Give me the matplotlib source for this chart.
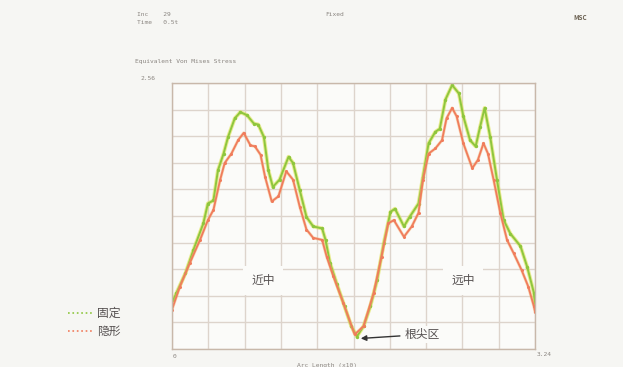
"""Von Mises stress along root arc length, fixed vs aligner."""

import numpy as np
import matplotlib

matplotlib.use("agg")
import matplotlib.pyplot as plt

plt.rcParams["font.family"] = ["Noto Sans CJK SC", "DejaVu Sans"]

# arc length (x10) and stress
fixed_x = [0.01, 0.04, 0.12, 0.19, 0.28, 0.32, 0.37, 0.41, 0.46, 0.50, 0.56,
           0.61, 0.67, 0.73, 0.77, 0.82, 0.86, 0.90, 0.96, 1.04, 1.08, 1.14,
           1.20, 1.26, 1.34, 1.37, 1.41, 1.47, 1.54, 1.60, 1.65, 1.71, 1.77,
           1.83, 1.89, 1.95, 1.99, 2.07, 2.12, 2.20, 2.24, 2.29, 2.35, 2.39,
           2.44, 2.50, 2.56, 2.60, 2.66, 2.71, 2.75, 2.79, 2.84, 2.90, 2.96,
           3.02, 3.11, 3.17, 3.23, 3.24]
fixed_y = [0.47, 0.54, 0.73, 0.95, 1.21, 1.40, 1.43, 1.72, 1.88, 2.04, 2.22,
           2.28, 2.25, 2.17, 2.16, 2.04, 1.72, 1.56, 1.63, 1.85, 1.79, 1.53,
           1.27, 1.18, 1.16, 1.05, 0.83, 0.63, 0.41, 0.22, 0.12, 0.22, 0.41,
           0.66, 1.02, 1.32, 1.35, 1.18, 1.27, 1.40, 1.66, 1.98, 2.09, 2.12,
           2.40, 2.54, 2.46, 2.24, 2.01, 1.95, 2.14, 2.32, 2.04, 1.63, 1.24,
           1.11, 0.99, 0.79, 0.54, 0.42]

aligner_x = [0.00, 0.07, 0.16, 0.25, 0.32, 0.37, 0.43, 0.47, 0.53, 0.59, 0.64,
             0.70, 0.74, 0.79, 0.83, 0.89, 0.95, 1.02, 1.08, 1.14, 1.20, 1.26,
             1.34, 1.38, 1.44, 1.53, 1.63, 1.71, 1.80, 1.87, 1.93, 1.98, 2.07,
             2.14, 2.20, 2.24, 2.29, 2.35, 2.41, 2.45, 2.50, 2.54, 2.60, 2.68,
             2.73, 2.78, 2.82, 2.87, 2.93, 2.99, 3.05, 3.12, 3.18, 3.23, 3.24]
aligner_y = [0.38, 0.60, 0.83, 1.05, 1.24, 1.34, 1.63, 1.79, 1.88, 2.01, 2.08,
             1.96, 1.95, 1.87, 1.66, 1.42, 1.47, 1.71, 1.63, 1.37, 1.15, 1.07,
             1.05, 0.89, 0.70, 0.44, 0.14, 0.22, 0.54, 0.89, 1.21, 1.24, 1.08,
             1.18, 1.31, 1.63, 1.88, 1.93, 2.01, 2.22, 2.32, 2.24, 1.98, 1.74,
             1.82, 1.98, 1.88, 1.63, 1.31, 1.05, 0.92, 0.76, 0.60, 0.41, 0.36]

x_max = 3.24
y_max = 2.56

green = "#8ec63e"
orange = "#f07c5c"
grid_col = "#ddd4cc"
txt_col = "#8a8580"

fig = plt.figure(figsize=(6.23, 3.67), dpi=100)
fig.patch.set_facecolor("#f6f6f3")

ax = fig.add_axes([0.2761, 0.049, 0.5827, 0.7248])
ax.set_facecolor("#fbfbf9")
ax.set_xlim(0, x_max)
ax.set_ylim(0, y_max)
ax.set_xticks(np.linspace(0, x_max, 11))
ax.set_yticks(np.linspace(0, y_max, 11))
ax.tick_params(length=0, labelbottom=False, labelleft=False)
ax.grid(True, color=grid_col, lw=1.0)
for sp in ax.spines.values():
    sp.set_color("#c8b8aa")
    sp.set_linewidth(1.0)

ax.plot(fixed_x, fixed_y, color="#dce24c", lw=2.8, alpha=0.6)
ax.plot(fixed_x, fixed_y, color=green, lw=1.4, marker="o", ms=1.4)
ax.plot(aligner_x, aligner_y, color="#f4b070", lw=2.2, alpha=0.5)
ax.plot(aligner_x, aligner_y, color=orange, lw=1.3, marker="o", ms=1.2)

# region labels
box = dict(boxstyle="square,pad=0.7", fc="#fbfbf9", ec="none")
ax.text(0.81, 0.66, "近中", ha="center", va="center", fontsize=8.5,
        color="#555050", bbox=box)
ax.text(2.60, 0.66, "远中", ha="center", va="center", fontsize=8.5,
        color="#555050", bbox=box)
ax.annotate("根尖区", xy=(1.66, 0.10), xytext=(2.08, 0.14),
            ha="left", va="center", fontsize=8.5, color="#555050",
            bbox=dict(boxstyle="square,pad=0.2", fc="#fbfbf9", ec="none"),
            arrowprops=dict(arrowstyle="-|>", color="#333333", lw=1.0,
                            mutation_scale=8))

# header texts
mono = dict(family="DejaVu Sans Mono", fontsize=4.5, color=txt_col)
fig.text(137 / 623, 1 - 14 / 367, "Inc    29", va="center", **mono)
fig.text(137 / 623, 1 - 23 / 367, "Time   0.5t", va="center", **mono)
fig.text(325 / 623, 1 - 14 / 367, "Fixed", va="center", **mono)
fig.text(135 / 623, 1 - 62 / 367, "Equivalent Von Mises Stress", va="center", **mono)
fig.text(140 / 623, 1 - 79 / 367, "2.56", va="center", **mono)
fig.text(173 / 623, 1 - 357 / 367, "0", va="center", **mono)
fig.text(537 / 623, 1 - 355 / 367, "3.24", va="center", **mono)
fig.text(297 / 623, 1 - 365 / 367, "Arc Length (x10)", va="center", **mono)
fig.text(573 / 623, 1 - 18 / 367, "MSC", va="center", fontsize=4.5,
         color="#6a6050", weight="bold")

# legend
leg_ax = fig.add_axes([0, 0, 1, 1], facecolor="none")
leg_ax.set_xlim(0, 623)
leg_ax.set_ylim(367, 0)
leg_ax.axis("off")
leg_ax.plot([68, 93], [313, 313], color=green, ls=":", lw=1.2)
leg_ax.plot([68, 93], [331, 331], color=orange, ls=":", lw=1.2)
leg_ax.text(97, 313, "固定", va="center", fontsize=8.5, color="#555050")
leg_ax.text(97, 331, "隐形", va="center", fontsize=8.5, color="#555050")

plt.savefig("out.png", dpi=100, facecolor=fig.get_facecolor())
plt.close(fig)
